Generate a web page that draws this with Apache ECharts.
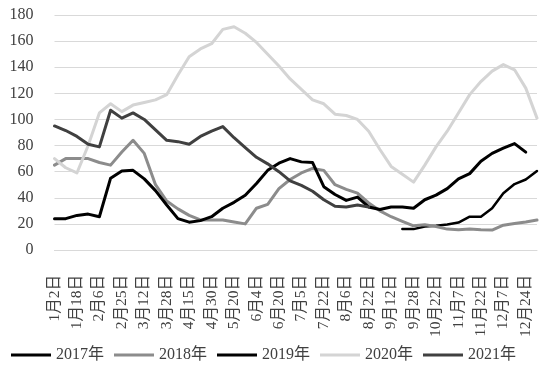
<!DOCTYPE html>
<html><head><meta charset="utf-8">
<script src="https://cdn.jsdelivr.net/npm/echarts@6/dist/echarts.min.js"></script>
<style>html,body{margin:0;padding:0;background:#fff}#c{width:543px;height:366px}</style>
</head><body><div id="c"></div>
<script>
const categories = ['1月2日','1月10日','1月18日','1月27日','2月6日','2月15日','2月25日','3月5日','3月12日','3月20日',
  '3月28日','4月7日','4月15日','4月23日','4月30日','5月12日','5月20日','5月27日','6月4日','6月12日',
  '6月20日','6月27日','7月5日','7月13日','7月22日','7月29日','8月6日','8月14日','8月22日','9月1日',
  '9月12日','9月20日','9月28日','10月13日','10月22日','10月30日','11月7日','11月15日','11月22日','11月30日',
  '12月7日','12月15日','12月24日','12月31日'];
const seriesNames = ['2017年','2018年','2019年','2020年','2021年'];
const y2017 = [null,null,null,null,null,null,null,null,null,null,null,null,null,null,null,null,null,null,null,null,
  null,null,null,null,null,null,null,null,null,null,null,16,16,18,18.5,19.5,21,25.5,25.5,32,43.5,50.5,54,60.5];
const y2018 = [65,70,70,70,67,65,75,84,74,50,37.5,31.5,26.5,23,23,23,21.5,20,32,35,47,54,59,62.5,61,50,46.5,43.5,36,30,
  25.5,22,18.5,19.3,18,16,15.5,16,15.5,15.3,19,20.3,21.5,23];
const y2019 = [24,24,26.5,27.5,25.5,55,60.5,61,54.5,45.5,34.5,24,21.3,22.5,25.5,32,36.5,42,51,61,66.5,70,67.5,67,48.5,42.5,38,40.5,33,31,
  33,33,32,38.5,42,47,54.5,58.5,68,74,78,81.5,75,null];
const y2020 = [70,63,59,80,105,112,106,111,113,115,119,134,148,154,158,169,171,166,159,150,141,131,123,115,112,104,103,100,91,77,
  64,58,52,65,79,91,105,119,129,137,142,138,124,101];
const y2021 = [95,91.5,87,81,79,107,101,105,100,92,84,83,81,87,91,94.5,86,78.5,71,66,60,53,49.5,45,38.5,33.5,33,34.5,33,null,
  null,null,null,null,null,null,null,null,null,null,null,null,null,null];
const yMin = 0, yMax = 180, yStep = 20;

const colors = ['#000000','#8c8c8c','#000000','#d4d4d4','#404040'];
const widths = [2.5,3,3,3,3];
const dataList = [y2017,y2018,y2019,y2020,y2021];
const fontFam = "'Liberation Serif','Times New Roman','Noto Sans CJK SC',serif";

const chart = echarts.init(document.getElementById('c'), null, {renderer:'canvas'});
chart.setOption({
  animation:false,
  color: colors,
  grid:{left:54.5, right:6, top:15, bottom:116, containLabel:false},
  legend:{
    data: seriesNames, left:6, top:342, icon:'rect', itemWidth:40, itemHeight:3, itemGap:10,
    textStyle:{fontFamily:fontFam, fontSize:16, color:'#404040', padding:[0,0,0,0]}
  },
  xAxis:{
    type:'category', data:categories, boundaryGap:false,
    axisLine:{show:true, lineStyle:{color:'#d9d9d9'}},
    axisTick:{show:false},
    axisLabel:{interval:1, rotate:90, margin:25, fontFamily:fontFam, fontSize:15.5, color:'#404040'}
  },
  yAxis:{
    type:'value', min:yMin, max:yMax, interval:yStep,
    axisLine:{show:false}, axisTick:{show:false},
    splitLine:{lineStyle:{color:'#d9d9d9', width:1}},
    axisLabel:{margin:21, fontFamily:fontFam, fontSize:16, color:'#404040'}
  },
  series: seriesNames.map((n,i)=>({
    name:n, type:'line', data:dataList[i], symbol:'none', connectNulls:false,
    lineStyle:{color:colors[i], width:widths[i], join:'round', cap:'round'},
    itemStyle:{color:colors[i]}
  }))
});
</script></body></html>
